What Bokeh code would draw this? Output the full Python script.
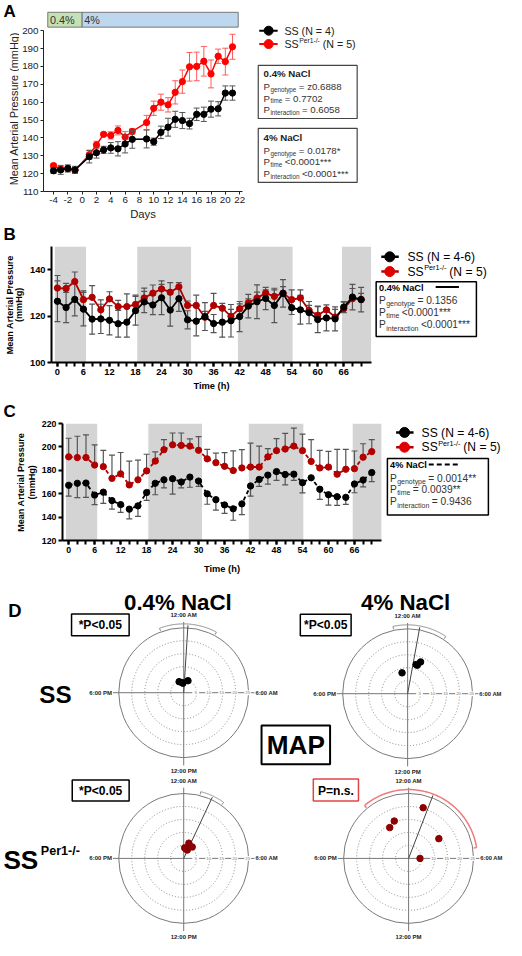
import numpy as np
from bokeh.plotting import figure
from bokeh.layouts import column, row
from bokeh.models import FixedTicker, Range1d
from bokeh.core.properties import value
from bokeh.embed import file_html
from bokeh.resources import INLINE

FONT = "Liberation Sans"

# ---------------- Panel A data ----------------
days = [-4, -3, -2, -1, 1, 2, 3, 4, 5, 6, 7, 9, 10, 11, 12, 13, 14, 15, 16, 17, 18, 19, 20, 21]
a_ss = [121.6, 122.1, 122.9, 122.1, 129.5, 131.7, 133.3, 134.4, 133.9, 136.6, 139.2, 139.4,
        137.9, 143.1, 146.0, 150.4, 149.7, 148.0, 153.2, 153.2, 156.1, 156.3, 165.1, 165.1]
a_ss_err = [1.5, 2.5, 2.0, 2.0, 3.5, 3.0, 2.0, 3.0, 4.0, 5.0, 5.0, 5.0,
            2.0, 3.5, 5.0, 4.5, 4.5, 3.0, 3.5, 4.0, 4.5, 4.0, 4.0, 4.0]
a_per = [124.5, 122.5, 122.8, 121.9, 130.6, 136.1, 142.0, 141.4, 144.2, 140.5, 143.6, 148.6,
         156.6, 160.0, 158.5, 165.5, 171.5, 179.8, 180.0, 182.9, 175.8, 185.7, 182.7, 191.0]
a_per_err = [1.0, 1.5, 1.5, 1.5, 2.5, 2.0, 1.0, 2.0, 2.5, 3.0, 1.5, 4.0,
             4.0, 4.5, 4.0, 6.5, 6.5, 8.0, 8.0, 8.3, 7.8, 4.0, 7.5, 7.0]
a_xticks = [-4, -2, 0, 2, 4, 6, 8, 10, 12, 14, 16, 18, 20, 22]
a_yticks = [110, 120, 130, 140, 150, 160, 170, 180, 190, 200]
salt_labels = ["0.4%", "4%"]
salt_start = [-4.8, 0.0]
salt_end = [0.0, 21.8]

# ---------------- Panel B / C data ----------------
hours = [0, 2, 4, 6, 8, 10, 12, 14, 16, 18, 20, 22, 24, 26, 28, 30, 32, 34,
         36, 38, 40, 42, 44, 46, 48, 50, 52, 54, 56, 58, 60, 62, 64, 66, 68, 70]
hour_labels = [0, 6, 12, 18, 24, 30, 36, 42, 48, 54, 60, 66]
dark_start = [-0.6, 18.4, 41.6, 65.6]
dark_end = [6.6, 30.8, 54.2, 72.3]

b_per = [132.1, 131.9, 134.9, 127.1, 128.1, 122.7, 127.4, 124.1, 124.1, 125.0, 127.8, 129.9,
         131.7, 130.3, 132.6, 124.6, 124.6, 119.5, 124.6, 123.4, 119.9, 123.2, 125.7, 127.8,
         129.9, 128.5, 129.9, 127.1, 127.8, 122.5, 120.4, 122.7, 119.6, 123.2, 127.5, 127.2]
b_per_err = [5.4, 2.2, 4.1, 3.8, 5.0, 4.3, 3.1, 2.7, 5.5, 4.0, 4.3, 3.5, 2.0, 4.1, 1.8, 1.9,
             4.4, 2.5, 5.2, 2.1, 3.0, 2.1, 1.7, 2.5, 1.4, 2.8, 2.8, 4.2, 3.5, 2.1, 3.9, 0.5,
             3.3, 2.8, 4.4, 2.6]
b_ss = [126.4, 123.7, 127.2, 123.0, 118.7, 118.8, 118.2, 116.7, 117.4, 122.3, 126.1, 124.8,
        127.9, 122.6, 127.5, 118.4, 117.8, 119.8, 116.8, 117.4, 118.0, 119.8, 124.3, 126.2,
        127.6, 124.6, 129.8, 123.6, 122.7, 121.5, 118.5, 119.2, 118.8, 123.9, 128.2, 127.1]
b_ss_err = [8.8, 6.5, 7.1, 7.2, 6.5, 6.3, 6.3, 5.8, 6.5, 6.2, 4.6, 4.2, 7.3, 6.9, 5.5, 3.9,
            6.3, 6.0, 3.9, 6.5, 7.0, 6.5, 5.1, 7.3, 4.8, 7.4, 5.9, 2.9, 6.2, 4.8, 5.6, 5.6,
            5.2, 2.4, 5.5, 5.3]

c_per = [191.5, 190.9, 190.9, 184.5, 183.1, 173.1, 177.0, 167.5, 171.9, 179.5, 187.9, 197.6,
         201.8, 201.3, 200.7, 197.1, 189.8, 186.5, 183.4, 179.8, 182.0, 182.8, 182.8, 191.5,
         196.8, 198.2, 200.7, 196.8, 187.6, 182.0, 182.8, 176.7, 180.9, 181.4, 191.2, 196.0]
c_per_err = [15.9, 18.2, 19.3, 17.3, 14.0, 19.8, 18.2, 20.4, 16.8, 14.2, 7.8, 8.7, 10.1, 10.6,
             6.1, 11.7, 8.1, 8.1, 11.7, 16.8, 15.6, 20.4, 17.9, 7.0, 10.3, 13.4, 15.4, 14.2,
             18.7, 15.1, 13.4, 21.2, 17.0, 15.1, 11.5, 10.3]
c_ss = [167.2, 168.9, 169.1, 158.8, 161.3, 154.1, 150.7, 146.8, 149.6, 161.0, 168.9, 171.9,
        172.8, 170.0, 174.2, 170.8, 159.9, 154.9, 150.4, 147.1, 151.3, 166.6, 172.2, 175.9,
        178.9, 176.4, 176.7, 169.4, 173.6, 163.8, 159.1, 157.4, 156.9, 168.3, 171.7, 178.1]
c_ss_err = [9.2, 12.3, 12.3, 8.1, 9.5, 7.3, 6.7, 8.4, 9.0, 6.7, 9.8, 7.0, 13.1, 5.0, 8.7, 4.5,
            8.9, 8.9, 7.3, 9.8, 9.2, 8.7, 5.9, 7.8, 7.5, 8.9, 5.3, 8.7, 1.0, 8.7, 8.9, 7.3,
            6.1, 7.5, 5.9, 7.8]

# ---------------- Panel D data (phase in clock hours, amplitude in mmHg) ----------------
ss04_phase = [22.5, 23.4, 23.7, 1.3]
ss04_amp = [4.6, 3.9, 3.7, 4.9]
ss04_mean = 0.24
ss04_ci = [22.63, 1.89]
ss4_phase = [23.0, 1.08, 1.25, 1.48]
ss4_amp = [8.3, 11.7, 11.6, 13.2]
ss4_mean = 0.69
ss4_ci = [23.18, 2.24]
per04_phase = [1.25, 0.75, 1.53, 2.44, 0.35]
per04_amp = [6.2, 3.8, 3.5, 5.5, 4.1]
per04_mean = 1.67
per04_ci = [0.96, 2.36]
per4_phase = [1.07, 22.6, 21.9, 3.79, 6.0]
per4_amp = [20.3, 15.4, 13.9, 13.9, 4.4]
per4_mean = 1.41
per4_ci = [21.35, 5.4]
ring_ticks = [5, 10, 15, 20, 25]
clock_labels = ["12:00 AM", "6:00 AM", "12:00 PM", "6:00 PM"]

RED_A = "#ff0000"
RED = "#b10000"
DARKRED = "#8b0000"

# layout designed in reference pixels, scaled into the 506 x 940 page
SX = 506 / 522
SY = 940 / 956
FS = SX

WID = {' ': 278, '*': 389, '-': 333, '.': 278, '/': 278, '<': 584, '=': 584, '%': 889,
       '(': 333, ')': 333, 'A': 667, 'C': 722, 'N': 722, 'P': 667, 'S': 667, 'M': 833,
       'a': 556, 'c': 500, 'e': 556, 'g': 556, 'i': 222, 'l': 222, 'm': 833, 'n': 556,
       'o': 556, 'p': 556, 'r': 333, 's': 500, 't': 278, 'y': 500, 'z': 500}


def tw(s, size):
    return sum(WID.get(c, 556) for c in s) / 1000.0 * size


def mkfig(w, h, xr, yr, **kw):
    p = figure(width=w, height=h, x_range=xr, y_range=yr, output_backend="svg",
               toolbar_location=None, **kw)
    p.outline_line_color = None
    p.background_fill_color = "white"
    p.border_fill_color = "white"
    p.frame_align = False
    return p


def blank(w, h, xr, yr):
    return mkfig(w, h, xr, yr, x_axis_type=None, y_axis_type=None, min_border=0)


def T(p, x, y, s, size, bold=False, color="#000000", align="left", baseline="middle", angle=0.0):
    p.text(x=[x], y=[y], text=[s], text_font=value(FONT), text_font_size=f"{size * FS:.2f}px",
           text_font_style="bold" if bold else "normal", text_color=color,
           text_align=align, text_baseline=baseline, angle=angle)


def prow(p, x, y, sub, rest, size=10, subsize=6.5, color="#333333"):
    T(p, x, y, "P", size, color=color)
    sx = x + tw("P", size) + 0.4
    T(p, sx, y + 0.3 * size, sub, subsize, color=color)
    T(p, sx + tw(sub, subsize) + 2.5, y, rest, size, color=color)


def supline(p, x, y, base, sup, rest, size, supsize, color="#000000"):
    T(p, x, y, base, size, color=color)
    sx = x + tw(base, size) + 0.5
    T(p, sx, y - 0.32 * size, sup, supsize, color=color)
    T(p, sx + tw(sup, supsize) + 3, y, rest, size, color=color)


def errbars(p, xs, ys, lo_err, hi_err, color, lw=1, cap=6):
    lo = [y - e for y, e in zip(ys, lo_err)]
    hi = [y + e for y, e in zip(ys, hi_err)]
    p.segment(x0=xs, y0=lo, x1=xs, y1=hi, line_color=color, line_width=lw)
    capx, capy = [], []
    for x, l, h, el, eh in zip(xs, lo, hi, lo_err, hi_err):
        if eh > 0:
            capx.append(x); capy.append(h)
        if el > 0:
            capx.append(x); capy.append(l)
    p.scatter(x=capx, y=capy, marker="dash", size=cap, line_color=color, line_width=lw)


# =============== Panel A ===============
SA_W = 19                       # left strip with letter and y label
A_W, A_H = 231, 224
A_L, A_R, A_T, A_B = 22, 8, 10, 33
ppu_a = (A_H - A_B - 30.2) / 90.0
ymax_a = 110 + (A_H - A_B - A_T) / ppu_a

pA = mkfig(A_W, A_H, Range1d(-5.4, 22.4), Range1d(110, ymax_a),
           min_border_left=A_L, min_border_right=A_R, min_border_top=A_T, min_border_bottom=A_B)
pA.xgrid.visible = False
pA.ygrid.visible = False
pA.xaxis.ticker = FixedTicker(ticks=a_xticks)
pA.xaxis.major_label_overrides = {t: str(t) for t in a_xticks if t < 0}
pA.yaxis.ticker = FixedTicker(ticks=a_yticks)
pA.yaxis.bounds = (110, 200)
for ax in (pA.xaxis[0], pA.yaxis[0]):
    ax.axis_line_color = "#222222"
    ax.major_tick_line_color = "#222222"
    ax.major_tick_out = 3
    ax.major_tick_in = 0
    ax.minor_tick_out = 0
    ax.minor_tick_in = 0
    ax.major_label_text_font = FONT
    ax.major_label_text_font_size = "9.8px"
    ax.major_label_text_color = "#222222"
    ax.major_label_standoff = 2
    ax.axis_label_text_font = FONT
    ax.axis_label_text_font_size = "11.3px"
    ax.axis_label_text_font_style = "normal"
    ax.axis_label_text_color = "#222222"
    ax.axis_label_standoff = 2
pA.xaxis.axis_label = "Days"

pA.quad(left=salt_start, right=salt_end, bottom=202.0, top=210.3,
        fill_color=["#c5e0b3", "#bdd7ee"], line_color="#777777", line_width=1)
pA.text(x=[s + 0.3 for s in salt_start], y=[206.1, 206.1], text=salt_labels,
        text_font=value(FONT), text_font_size="10.8px", text_color="#333333",
        text_baseline="middle", text_align="left")
errbars(pA, days, a_per, a_per_err, a_per_err, "#ff5a5a", lw=1, cap=6)
pA.line(days, a_per, line_color=RED_A, line_width=1.5)
pA.scatter(days, a_per, size=6.3, color=RED_A)
errbars(pA, days, a_ss, a_ss_err, a_ss_err, "#555555", lw=1, cap=6)
pA.line(days, a_ss, line_color="black", line_width=1.5)
pA.scatter(days, a_ss, size=6.3, color="black")

sA = blank(SA_W, A_H, Range1d(0, SA_W / SX), Range1d(A_H / SY, 0))
T(sA, 3, 11, "A", 17.5, bold=True)
T(sA, 14, 110, "Mean Arterial Pressure (mmHg)", 11.2, color="#222222", align="center",
  angle=np.pi / 2)

aA = blank(256, A_H, Range1d(258, 522), Range1d(A_H / SY, 0))
aA.line([267, 286], [30.7, 30.7], line_color="black", line_width=2)
aA.scatter([276.7], [30.7], size=9, color="black")
T(aA, 293, 31, "SS (N = 4)", 11, color="#222222")
aA.line([267, 286], [44.3, 44.3], line_color=RED_A, line_width=2)
aA.scatter([276.7], [44.3], size=9, color=RED_A)
supline(aA, 293, 44.6, "SS", "Per1-/-", "(N = 5)", 11, 7, color="#222222")

aA.quad(left=[266, 266], right=[368, 368], top=[66, 130], bottom=[120, 185],
        fill_color=None, line_color="#444444", line_width=1.2)
T(aA, 271.5, 74, "0.4% NaCl", 10, bold=True, color="#222222")
prow(aA, 271.5, 87.3, "genotype", "= z0.6888")
prow(aA, 271.5, 99.2, "time", "= 0.7702")
prow(aA, 271.5, 111.2, "interaction", "= 0.6058")
T(aA, 271.5, 139, "4% NaCl", 10, bold=True, color="#222222")
prow(aA, 271.5, 152.5, "genotype", "= 0.0178*")
prow(aA, 271.5, 164.2, "time", "<0.0001***")
prow(aA, 271.5, 175.8, "interaction", "<0.0001***")


# =============== Panels B & C helpers ===============
def style_bc(p, tick_size, xlabel_standoff):
    p.xgrid.visible = False
    p.ygrid.visible = False
    for ax in (p.xaxis[0], p.yaxis[0]):
        ax.axis_line_color = "black"
        ax.axis_line_width = 2
        ax.major_tick_line_color = "black"
        ax.major_tick_line_width = 2
        ax.major_tick_out = 4
        ax.major_tick_in = 0
        ax.minor_tick_line_color = "black"
        ax.minor_tick_line_width = 2
        ax.minor_tick_out = 4
        ax.minor_tick_in = 0
        ax.major_label_text_font = FONT
        ax.major_label_text_font_style = "bold"
        ax.major_label_text_font_size = f"{tick_size}px"
        ax.major_label_text_color = "black"
        ax.major_label_standoff = 2
        ax.axis_label_text_font = FONT
        ax.axis_label_text_font_style = "bold"
        ax.axis_label_text_font_size = "9.3px"
        ax.axis_label_text_color = "black"
    p.yaxis.minor_tick_out = 0
    p.xaxis.ticker = FixedTicker(ticks=hour_labels, minor_ticks=hours)
    p.xaxis.axis_label = "Time (h)"
    p.xaxis.axis_label_standoff = xlabel_standoff


# =============== Panel B ===============
SB_W = 26
B_W, B_H = 348, 169
B_L, B_R, B_T, B_B = 24, 3, 22, 30
pphB = 4.49 * SX
b_x0 = -((57.7 * SX) - (SB_W + B_L)) / pphB
b_x1 = b_x0 + (B_W - B_L - B_R) / pphB
pB = mkfig(B_W, B_H, Range1d(b_x0, b_x1), Range1d(100, 150),
           min_border_left=B_L, min_border_right=B_R, min_border_top=B_T, min_border_bottom=B_B)
style_bc(pB, 9.3, 3)
pB.yaxis.ticker = FixedTicker(ticks=[100, 120, 140])
pB.quad(left=dark_start, right=dark_end, bottom=100, top=150, fill_color="#d4d4d4",
        line_color=None)
zeros = [0.0] * len(hours)
errbars(pB, hours, b_per, zeros, b_per_err, "#555555", lw=1.2, cap=6)
errbars(pB, hours, b_ss, b_ss_err, b_ss_err, "#555555", lw=1.2, cap=6)
pB.line(hours, b_per, line_color=RED, line_width=1.8)
pB.scatter(hours, b_per, size=6.3, color=RED)
pB.line(hours, b_ss, line_color="black", line_width=1.8)
pB.scatter(hours, b_ss, size=6.3, color="black")

B_Y0 = 224 / SY
sB = blank(SB_W, B_H, Range1d(0, SB_W / SX), Range1d(B_Y0 + B_H / SY, B_Y0))
T(sB, 3, 237.5, "B", 17.5, bold=True)
T(sB, 9.5, 309.5, "Mean Arterial Pressure", 9.4, bold=True, align="center", angle=np.pi / 2)
T(sB, 19.5, 309.5, "(mmHg)", 9.4, bold=True, align="center", angle=np.pi / 2)

aB = blank(132, B_H, Range1d(386, 522), Range1d(B_Y0 + B_H / SY, B_Y0))
aB.line([393, 411], [260.7, 260.7], line_color="black", line_width=2.5)
aB.scatter([401.7], [260.7], size=10, color="black")
T(aB, 420, 261, "SS (N = 4-6)", 12.5)
aB.line([393, 411], [275.7, 275.7], line_color=RED, line_width=2.5)
aB.scatter([401.7], [275.7], size=10, color="#e00000")
supline(aB, 420, 276, "SS", "Per1-/-", "(N = 5)", 12.5, 7.5)
aB.quad(left=[387.7], right=[491], top=[286], bottom=[341.7], fill_color=None,
        line_color="black", line_width=1.5)
T(aB, 390.7, 292.7, "0.4% NaCl", 9.5, bold=True)
aB.line([449, 473], [291.5, 291.5], line_color="black", line_width=2)
prow(aB, 390.7, 305, "genotype", "= 0.1356", size=10.5, subsize=7.2)
prow(aB, 390.7, 317.3, "time", "<0.0001***", size=10.5, subsize=7.2)
prow(aB, 390.7, 330, "interaction", "<0.0001***", size=10.5, subsize=7.2)

# =============== Panel C ===============
SC_W = 38
C_W, C_H = 346, 192
C_L, C_R, C_T, C_B = 22, 3, 30, 45
pphC = 4.495 * SX
c_x0 = -((68.3 * SX) - (SC_W + C_L)) / pphC
c_x1 = c_x0 + (C_W - C_L - C_R) / pphC
pC = mkfig(C_W, C_H, Range1d(c_x0, c_x1), Range1d(120, 220),
           min_border_left=C_L, min_border_right=C_R, min_border_top=C_T, min_border_bottom=C_B)
style_bc(pC, 8.8, 8)
pC.yaxis.ticker = FixedTicker(ticks=[120, 140, 160, 180, 200, 220])
pC.quad(left=dark_start, right=dark_end, bottom=120, top=220, fill_color="#d4d4d4",
        line_color=None)
zc = [0.0] * len(hours)
errbars(pC, hours, c_per, zc, c_per_err, "#555555", lw=1.2, cap=6)
errbars(pC, hours, c_ss, c_ss_err, zc, "#555555", lw=1.2, cap=6)
pC.line(hours, c_per, line_color=RED, line_width=1.8, line_dash="4 3")
pC.scatter(hours, c_per, size=6.3, color=RED)
pC.line(hours, c_ss, line_color="black", line_width=1.8, line_dash="4 3")
pC.scatter(hours, c_ss, size=6.3, color="black")

C_Y0 = (224 + 169) / SY
sC = blank(SC_W, C_H, Range1d(0, SC_W / SX), Range1d(C_Y0 + C_H / SY, C_Y0))
T(sC, 3, 417.5, "C", 17.5, bold=True)
T(sC, 21, 490, "Mean Arterial Pressure", 9.4, bold=True, align="center", angle=np.pi / 2)
T(sC, 32, 490, "(mmHg)", 9.4, bold=True, align="center", angle=np.pi / 2)

aC = blank(122, C_H, Range1d(396, 522), Range1d(C_Y0 + C_H / SY, C_Y0))
aC.line([408, 426], [439.3, 439.3], line_color="black", line_width=2.5)
aC.scatter([416.7], [439.3], size=10, color="black")
T(aC, 434.3, 439.6, "SS (N = 4-6)", 12.5)
aC.line([408, 426], [454.3, 454.3], line_color=RED, line_width=2.5)
aC.scatter([416.7], [454.3], size=10, color="#e00000")
supline(aC, 434.3, 454.6, "SS", "Per1-/-", "(N = 5)", 12.5, 7.5)
aC.quad(left=[399], right=[503.3], top=[465.7], bottom=[523.3], fill_color=None,
        line_color="black", line_width=1.5)
T(aC, 401.7, 472.7, "4% NaCl", 9.5, bold=True)
aC.line([441.7, 474], [472, 472], line_color="black", line_width=2, line_dash="5 3")
prow(aC, 401.7, 486, "genotype", "= 0.0014**", size=10.5, subsize=7.2)
prow(aC, 401.7, 497.7, "time", "= 0.0039**", size=10.5, subsize=7.2)
prow(aC, 401.7, 510, "interaction", "= 0.9436", size=10.5, subsize=7.2)

# =============== Panel D ===============
D_Y0 = (224 + 169 + 192) / SY
pD = blank(506, 355, Range1d(0, 522), Range1d(D_Y0 + 355 / SY, D_Y0))
K = 67.0 / 25.0          # reference px per mmHg of amplitude (x units)
KY = K * SX / SY         # same physical length in y units
TWO_PI = 2 * np.pi


def polar_panel(p, cx, cy, phase, amp, mean_phase, ci, pt_color, arc_color, arc_w):
    rings = ring_ticks[:-1]
    p.circle(x=[cx] * len(rings), y=[cy] * len(rings), radius=[K * r for r in rings],
             fill_color=None, line_color="#8a8a8a", line_dash="1 2", line_width=1)
    p.circle(x=[cx], y=[cy], radius=[K * ring_ticks[-1]], fill_color=None,
             line_color="#7a7a7a", line_width=1)
    p.line([cx, cx], [cy - 73 * SX / SY, cy + 75 * SX / SY], line_color="#777777", line_width=1)
    p.line([cx - 73, cx + 73], [cy, cy], line_color="#777777", line_width=1)
    xs = [cx + K * r - 1 for r in ring_ticks]
    p.rect(x=xs, y=[cy] * len(xs), width=7, height=5, fill_color="white", line_color=None)
    p.text(x=xs, y=[cy] * len(xs), text=[str(r) for r in ring_ticks], text_font=value(FONT),
           text_font_size="4.4px", text_color="#777777", text_align="center",
           text_baseline="middle")
    T(p, cx, cy - 79, clock_labels[0], 6.2, bold=True, align="center", color="#222222")
    T(p, cx + 74, cy, clock_labels[1], 6.0, bold=True, align="left", color="#222222")
    T(p, cx, cy + 80, clock_labels[2], 6.2, bold=True, align="center", color="#222222")
    T(p, cx - 74, cy, clock_labels[3], 6.2, bold=True, align="right", color="#222222")
    h0, h1 = ci
    if h1 < h0:
        h1 += 24
    th = np.linspace(h0, h1, 90) * TWO_PI / 24
    Ra = 26.5
    p.line(cx + K * Ra * np.sin(th), cy - KY * Ra * np.cos(th), line_color=arc_color,
           line_width=arc_w)
    for h in (h0, h1):
        t = h * TWO_PI / 24
        p.line([cx + K * (Ra - 1.1) * np.sin(t), cx + K * Ra * np.sin(t)],
               [cy - KY * (Ra - 1.1) * np.cos(t), cy - KY * Ra * np.cos(t)],
               line_color=arc_color, line_width=arc_w)
    t = mean_phase * TWO_PI / 24
    p.line([cx, cx + K * 26 * np.sin(t)], [cy, cy - KY * 26 * np.cos(t)],
           line_color="#444444", line_width=1)
    th = np.array(phase) * TWO_PI / 24
    a = np.array(amp)
    p.scatter(cx + K * a * np.sin(th), cy - KY * a * np.cos(th), size=6.5, color=pt_color)


polar_panel(pD, 189, 704, ss04_phase, ss04_amp, ss04_mean, ss04_ci, "black", "#8a8a8a", 1)
polar_panel(pD, 420, 705, ss4_phase, ss4_amp, ss4_mean, ss4_ci, "black", "#8a8a8a", 1)
polar_panel(pD, 189, 872.5, per04_phase, per04_amp, per04_mean, per04_ci, DARKRED, "#8a8a8a", 1)
polar_panel(pD, 421, 872.5, per4_phase, per4_amp, per4_mean, per4_ci, DARKRED, "#f07a7a", 1.5)

T(pD, 8, 620, "D", 19, bold=True)
T(pD, 183, 612, "0.4% NaCl", 23, bold=True, align="center", baseline="alphabetic")
T(pD, 418, 612, "4% NaCl", 23, bold=True, align="center", baseline="alphabetic")
T(pD, 40, 706, "SS", 25, bold=True)
T(pD, 3, 874, "SS", 27, bold=True)
T(pD, 41.5, 865, "Per1-/-", 13, bold=True)

pD.quad(left=[73.3, 309.3, 74], right=[132.7, 361.7, 132.7], top=[624, 624.3, 792.7],
        bottom=[646, 646, 814], fill_color=None, line_color="black", line_width=1.5)
pD.quad(left=[322.7], right=[369.3], top=[791.7], bottom=[814], fill_color=None,
        line_color="#e04545", line_width=1.5)
T(pD, 103, 635.5, "*P<0.05", 12.5, bold=True, align="center")
T(pD, 335.5, 635.5, "*P<0.05", 12.5, bold=True, align="center")
T(pD, 103.3, 803.5, "*P<0.05", 12.5, bold=True, align="center")
T(pD, 346, 803.5, "P=n.s.", 12.5, bold=True, align="center")
pD.quad(left=[269.3], right=[340], top=[737.3], bottom=[776.7], fill_color=None,
        line_color="black", line_width=2)
T(pD, 304.7, 757.5, "MAP", 27, bold=True, align="center")

layout = column(row(sA, pA, aA),
                row(sB, pB, aB),
                row(sC, pC, aC),
                pD)
open("out.html", "w").write(file_html(layout, INLINE))
